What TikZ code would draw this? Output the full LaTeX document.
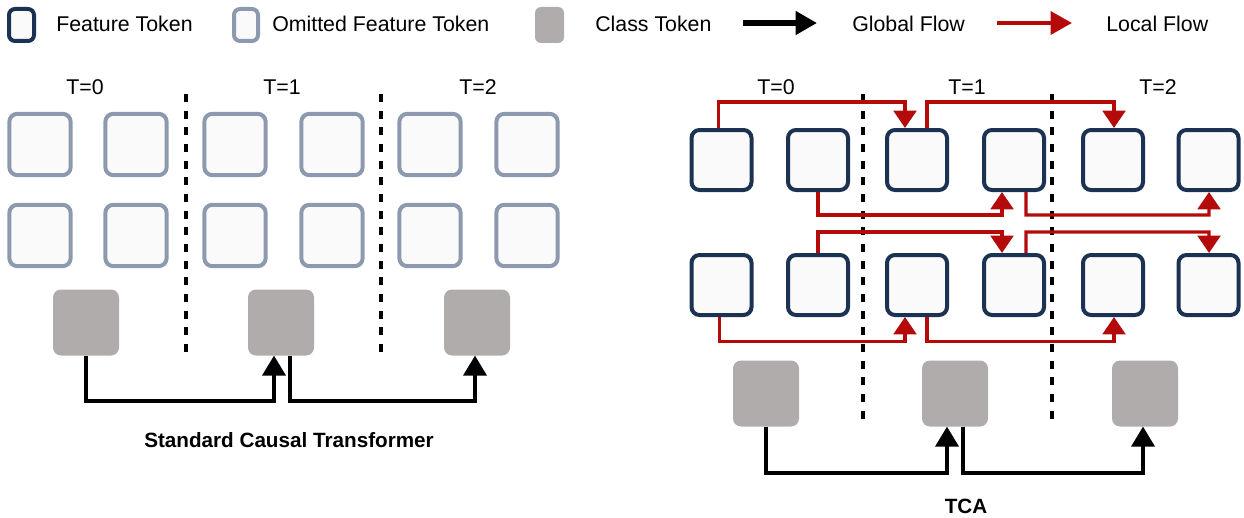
\documentclass[tikz,border=0pt]{standalone}
\usepackage{fontspec}
\setmainfont{Liberation Sans}
\usetikzlibrary{arrows.meta}
\definecolor{navy}{HTML}{1C3252}
\definecolor{omit}{HTML}{8D99AE}
\definecolor{clsgray}{HTML}{B0ACAB}
\definecolor{flowred}{HTML}{B40A0A}
\definecolor{boxfill}{HTML}{FAFAFB}
\tikzset{
  ftok/.style={draw=navy, line width=3pt, fill=boxfill, rounded corners=6pt, minimum width=45pt, minimum height=45pt, inner sep=0pt},
  otok/.style={draw=omit, line width=3pt, fill=boxfill, rounded corners=6pt, minimum width=46pt, minimum height=46pt, inner sep=0pt},
  ctok/.style={fill=clsgray, rounded corners=6pt, minimum width=49.5pt, minimum height=49.5pt, inner sep=0pt, outer sep=0pt},
  blkflow/.style={line width=3.25pt, -{Triangle[length=15pt,width=17pt]}},
  redflow/.style={draw=flowred, line width=2.4pt, -{Triangle[length=13pt,width=17pt]}, color=flowred},
  divider/.style={line width=3pt, dash pattern=on 6pt off 6.5pt},
  lbl/.style={font=\fontsize{16pt}{18pt}\selectfont, inner sep=0pt},
  ttl/.style={font=\fontsize{15.5pt}{18pt}\selectfont\bfseries, inner sep=0pt},
}
\begin{document}
\begin{tikzpicture}[x=0.75pt,y=-0.75pt]
\useasboundingbox (0,0) rectangle (1244,517);
% legend
\node[ftok, minimum width=18.75pt, minimum height=24pt, rounded corners=4.5pt] (lf) at (21.5,25) {};
\node[lbl, anchor=base west] (lft) at (56,32) {Feature Token};
\node[otok, minimum width=18pt, minimum height=24pt, rounded corners=4.5pt] (lo) at (246,25) {};
\node[lbl, anchor=base west] (lot) at (272,32) {Omitted Feature Token};
\node[ctok, minimum width=21.75pt, minimum height=27pt, rounded corners=4.5pt] (lc) at (549.5,25) {};
\node[lbl, anchor=base west] (lct) at (595,32) {Class Token};
\coordinate (lg1) at (743,23);
\coordinate (lg2) at (817,23);
\draw[line width=4.5pt, -{Triangle[length=16pt,width=17pt]}] (lg1) -- (lg2);
\node[lbl, anchor=base west] (lgt) at (852,32) {Global Flow};
\coordinate (ll1) at (997,23);
\coordinate (ll2) at (1072,23);
\draw[line width=3.25pt, color=flowred, -{Triangle[length=16pt,width=17pt]}] (ll1) -- (ll2);
\node[lbl, anchor=base west] (llt) at (1106,32) {Local Flow};

% ---------- left panel ----------
\node[lbl, anchor=base] (lt0) at (85,94) {T=0};
\node[lbl, anchor=base] (lt1) at (282,94) {T=1};
\node[lbl, anchor=base] (lt2) at (478,94) {T=2};
\foreach \x [count=\i] in {40,136,235,332,430,527}{
  \node[otok] (p\i) at (\x,144.5) {};
  \node[otok] (q\i) at (\x,235.5) {};
}
\node[ctok] (c1) at (86,322.5) {};
\node[ctok] (c2) at (281,322.5) {};
\node[ctok] (c3) at (477,322.5) {};
\coordinate (ld1t) at (186,94); \coordinate (ld1b) at (186,356);
\coordinate (ld2t) at (381,94); \coordinate (ld2b) at (381,356);
\draw[divider] (ld1t) -- (ld1b);
\draw[divider] (ld2t) -- (ld2b);
\draw[blkflow] (c1.south) -- (86,401) -- (274,401) -- ([xshift=-5.25pt]c2.south);
\draw[blkflow] ([xshift=6.75pt]c2.south) -- (290,401) -- (475,401) -- ([xshift=-1.5pt]c3.south);
\node[ttl, anchor=base] (ltitle) at (289,447) {Standard Causal Transformer};

% ---------- right panel ----------
\node[lbl, anchor=base] (rt0) at (776,94) {T=0};
\node[lbl, anchor=base] (rt1) at (967,94) {T=1};
\node[lbl, anchor=base] (rt2) at (1158,94) {T=2};
\foreach \x [count=\i] in {721.5,818,917,1014,1113,1208.5}{
  \node[ftok] (a\i) at (\x,160) {};
  \node[ftok] (b\i) at (\x,285) {};
}
\node[ctok] (d1) at (766,393.5) {};
\node[ctok] (d2) at (955,393.5) {};
\node[ctok] (d3) at (1145,393.5) {};
\coordinate (rd1t) at (863,94); \coordinate (rd1b) at (863,427);
\coordinate (rd2t) at (1052,94); \coordinate (rd2b) at (1052,427);
\draw[divider] (rd1t) -- (rd1b);
\draw[divider] (rd2t) -- (rd2b);
% local flows
\draw[redflow] ([xshift=-2.25pt]a1.north) -- (718.5,102) -- (905,102) -- ([xshift=-9pt]a3.north);
\draw[redflow] ([xshift=7.5pt]a3.north) -- (927,102) -- (1114,102) -- ([xshift=0.75pt]a5.north);
\draw[redflow] (a2.south) -- (818,215) -- (1002,215) -- ([xshift=-9pt]a4.south);
\draw[redflow] ([xshift=9pt]a4.south) -- (1026,215) -- (1209,215) -- ([xshift=0.4pt]a6.south);
\draw[redflow] (b2.north) -- (818,232) -- (1002,232) -- ([xshift=-9pt]b4.north);
\draw[redflow] ([xshift=9pt]b4.north) -- (1026,232) -- (1209,232) -- ([xshift=0.4pt]b6.north);
\draw[redflow] ([xshift=-1.5pt]b1.south) -- (719.5,341.5) -- (905,341.5) -- ([xshift=-9pt]b3.south);
\draw[redflow] ([xshift=7.5pt]b3.south) -- (927,341.5) -- (1114,341.5) -- ([xshift=0.75pt]b5.south);
% global flows
\draw[blkflow] (d1.south) -- (766,473) -- (947,473) -- ([xshift=-6pt]d2.south);
\draw[blkflow] ([xshift=6pt]d2.south) -- (963,473) -- (1143,473) -- ([xshift=-1.5pt]d3.south);
\node[ttl, anchor=base] (rtitle) at (966,513) {TCA};
\end{tikzpicture}
\end{document}
